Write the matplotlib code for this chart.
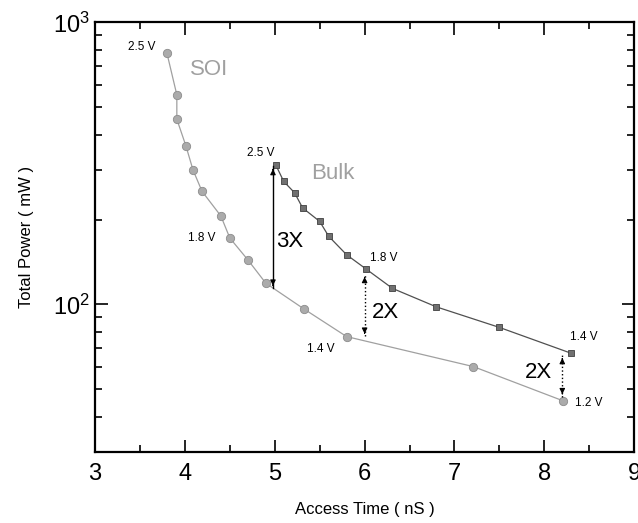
import matplotlib
matplotlib.use("Agg")
import matplotlib.pyplot as plt
from matplotlib.ticker import MultipleLocator, LogLocator, NullFormatter

plt.rcParams['font.family'] = ['Liberation Sans', 'DejaVu Sans']
plt.rcParams['mathtext.fontset'] = 'custom'
plt.rcParams['mathtext.rm'] = 'Liberation Sans'

# SOI curve (2.5 V ... 1.2 V)
soi_time = [3.80, 3.91, 3.91, 4.01, 4.09, 4.19, 4.40, 4.50, 4.70, 4.90, 5.32, 5.80, 7.21, 8.21]
soi_power = [778, 554, 454, 366, 300, 252, 206, 172, 144, 119, 96.6, 76.9, 60.2, 45.5]

# Bulk curve (2.5 V ... 1.4 V)
bulk_time = [5.01, 5.10, 5.22, 5.31, 5.50, 5.60, 5.80, 6.01, 6.31, 6.80, 7.50, 8.30]
bulk_power = [313, 273, 249, 220, 197, 174.5, 150, 134, 114, 98, 82.9, 67.1]

# voltage labels: text, x, y
volt_text = ['2.5 V', '1.8 V', '1.4 V', '1.2 V', '2.5 V', '1.8 V', '1.4 V']
volt_x = [3.52, 4.19, 5.51, 8.49, 4.84, 6.21, 8.44]
volt_y = [821, 172, 69.3, 44.6, 344, 146, 76.9]

# ratio arrows: x, bottom, top, label, label x, label y
ratio_x = [4.98, 6.0, 8.2]
ratio_lo = [114, 77, 47]
ratio_hi = [309, 128, 66]
ratio_text = ['3X', '2X', '2X']
ratio_tx = [5.17, 6.23, 7.94]
ratio_ty = [167, 93.5, 57.3]

fig = plt.figure(figsize=(6.38, 5.23), dpi=100)
ax = fig.add_axes([0.149, 0.136, 0.845, 0.821])

ax.plot(soi_time, soi_power, '-', color='#a0a0a0', lw=0.9,
        marker='o', ms=6, mfc='#ababab', mec='#8c8c8c', mew=0.6)
ax.plot(bulk_time, bulk_power, '-', color='#505050', lw=0.9,
        marker='s', ms=4.8, mfc='#707070', mec='#404040', mew=0.6)

ax.text(4.27, 679, 'SOI', fontsize=16, color='#a0a0a0', ha='center', va='center')
ax.text(5.65, 292, 'Bulk', fontsize=16, color='#a0a0a0', ha='center', va='center')

for t, x, y in zip(volt_text, volt_x, volt_y):
    ax.text(x, y, t, fontsize=8.5, ha='center', va='center')

for i in range(len(ratio_x)):
    x = ratio_x[i]
    ls = '-' if i == 0 else ':'
    ax.plot([x, x], [ratio_lo[i], ratio_hi[i]], ls=ls, color='k', lw=1.0)
    ax.annotate('', xy=(x, ratio_hi[i]), xytext=(x, ratio_hi[i] * 0.95),
                arrowprops=dict(arrowstyle='-|>', color='k', lw=0.8, mutation_scale=8))
    ax.annotate('', xy=(x, ratio_lo[i]), xytext=(x, ratio_lo[i] * 1.05),
                arrowprops=dict(arrowstyle='-|>', color='k', lw=0.8, mutation_scale=8))
    ax.text(ratio_tx[i], ratio_ty[i], ratio_text[i], fontsize=16, ha='center', va='center')

ax.set_yscale('log')
ax.set_xlim(3, 9)
ax.set_ylim(30, 1000)
ax.xaxis.set_major_locator(MultipleLocator(1))
ax.xaxis.set_minor_locator(MultipleLocator(0.5))
ax.yaxis.set_major_locator(LogLocator(base=10))
ax.yaxis.set_minor_locator(LogLocator(base=10, subs=range(2, 10)))
ax.yaxis.set_minor_formatter(NullFormatter())
ax.tick_params(which='both', direction='in', top=True, right=True, labelsize=17, width=1.2)
ax.tick_params(which='major', length=9)
ax.tick_params(which='minor', length=5)
ax.tick_params(axis='x', which='major', pad=8)
for s in ax.spines.values():
    s.set_linewidth(1.6)

ax.set_xlabel('Access Time ( nS )', fontsize=12, labelpad=12)
ax.set_ylabel('Total Power ( mW )', fontsize=12, labelpad=14)

fig.savefig('out.png', dpi=100)
